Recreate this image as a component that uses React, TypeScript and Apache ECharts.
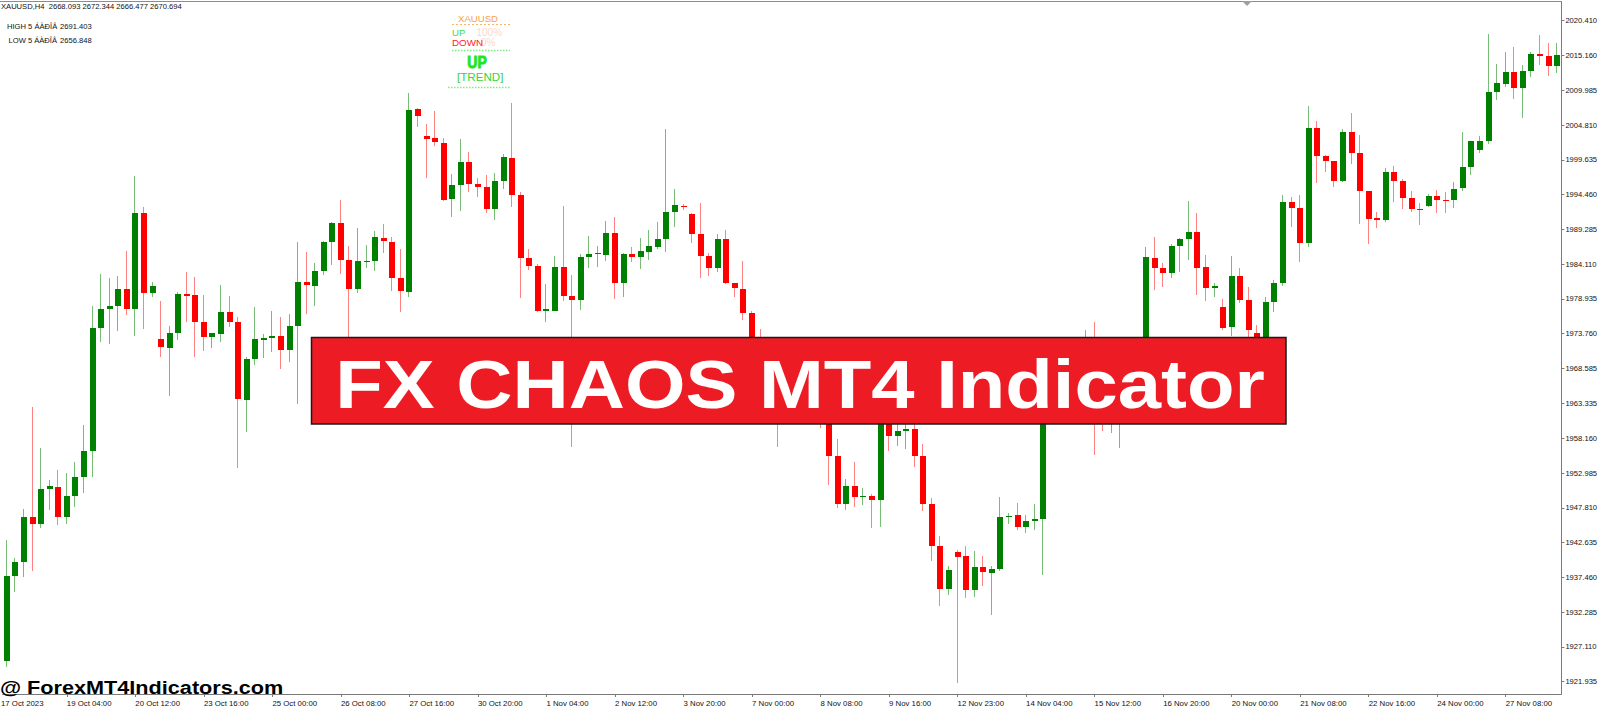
import React, { useEffect, useRef } from "react";
import * as echarts from "echarts";

// ---- Data (XAUUSD H4) ----
const opens = [
  1925.01, 1937.67, 1939.80, 1946.41, 1945.41, 1950.58, 1950.97, 1946.50, 1949.63, 1952.37,
  1956.33, 1974.56, 1977.39, 1977.92, 1980.41, 1977.43, 1991.77, 1979.86, 1972.96, 1971.67,
  1973.81, 1979.62, 1979.52, 1975.45, 1973.31, 1973.71, 1977.03, 1975.45, 1963.88, 1969.94,
  1972.81, 1973.07, 1973.41, 1971.32, 1974.90, 1981.41, 1980.90, 1983.13, 1987.45, 1990.28,
  1984.73, 1980.36, 1984.48, 1984.63, 1988.05, 1987.45, 1982.00, 1980.01, 2007.17, 2003.20,
  2002.85, 2002.20, 1993.81, 1995.90, 1999.28, 1996.05, 1995.65, 1992.32, 1996.49, 1999.97,
  1994.36, 1984.98, 1983.88, 1977.18, 1977.18, 1983.64, 1979.41, 1978.77, 1985.13, 1985.58,
  1985.47, 1988.70, 1981.26, 1985.58, 1985.13, 1985.97, 1986.71, 1987.81, 1991.92, 1992.82,
  1991.58, 1988.60, 1985.32, 1983.58, 1987.86, 1981.35, 1980.41, 1976.88, 1972.07, 1969.84,
  1971.32, 1963.88, 1966.11, 1964.62, 1966.86, 1964.62, 1961.64, 1955.54, 1948.39, 1951.07,
  1949.43, 1949.58, 1948.98, 1962.39, 1958.56, 1959.26, 1959.56, 1955.54, 1948.39, 1942.18,
  1935.69, 1941.29, 1940.64, 1935.58, 1939.05, 1938.16, 1938.66, 1946.41, 1946.71, 1944.92,
  1945.90, 1946.11, 1966.11, 1964.62, 1966.86, 1969.09, 1967.60, 1971.32, 1963.13, 1962.09,
  1964.18, 1968.05, 1966.26, 1967.60, 1985.07, 1983.49, 1982.84, 1986.81, 1987.81, 1988.94,
  1983.64, 1980.51, 1977.68, 1974.79, 1982.39, 1978.77, 1973.86, 1972.81, 1978.52, 1981.26,
  1993.32, 1992.43, 1987.30, 2004.34, 2000.22, 1999.47, 1996.54, 2003.75, 2000.71, 1995.05,
  1990.94, 1990.69, 1997.88, 1996.54, 1993.92, 1992.37, 1992.77, 1994.26, 1993.71, 1993.66,
  1995.41, 1998.53, 2001.11, 2002.50, 2009.70, 2010.94, 2012.68, 2010.39, 2012.92, 2015.41,
  2015.11, 2013.62,
];

const highs = [
  1943.03, 1940.30, 1947.64, 1962.79, 1956.68, 1951.96, 1953.45, 1952.96, 1954.69, 1960.15,
  1977.88, 1982.60, 1982.09, 1982.30, 1986.11, 1997.28, 1992.58, 1981.50, 1978.67, 1974.94,
  1979.92, 1982.90, 1982.15, 1979.52, 1973.90, 1981.00, 1979.37, 1976.28, 1970.24, 1977.77,
  1973.71, 1977.18, 1976.19, 1976.69, 1987.45, 1985.87, 1984.33, 1987.60, 1990.38, 1993.66,
  1986.81, 1989.45, 1986.96, 1989.05, 1990.09, 1988.11, 1986.32, 2009.55, 2007.32, 2004.98,
  2006.92, 2002.85, 1997.54, 2002.70, 2000.77, 1996.90, 1997.39, 1997.73, 2000.51, 2008.07,
  1994.90, 1986.32, 1984.13, 1981.15, 1985.32, 1992.77, 1982.49, 1985.62, 1988.35, 1986.81,
  1990.54, 1991.18, 1985.73, 1986.71, 1987.96, 1989.20, 1990.43, 2004.24, 1995.30, 1993.07,
  1991.77, 1993.17, 1985.73, 1988.60, 1989.20, 1981.35, 1984.63, 1977.18, 1974.41, 1972.07,
  1972.07, 1967.60, 1966.86, 1968.35, 1967.60, 1965.37, 1962.39, 1958.03, 1952.07, 1954.69,
  1950.73, 1949.88, 1963.88, 1963.00, 1960.90, 1960.90, 1960.60, 1957.33, 1949.24, 1943.62,
  1939.16, 1941.54, 1942.13, 1941.43, 1940.64, 1939.16, 1949.39, 1947.09, 1948.58, 1946.75,
  1948.39, 1966.86, 1967.15, 1968.05, 1970.13, 1970.58, 1974.30, 1975.54, 1964.18, 1965.37,
  1969.09, 1968.94, 1968.64, 1986.62, 1988.11, 1984.24, 1987.11, 1987.96, 1993.56, 1991.77,
  1985.47, 1981.26, 1978.88, 1985.32, 1983.49, 1980.75, 1975.05, 1979.17, 1981.75, 1994.41,
  1994.16, 1994.41, 2007.66, 2005.47, 2000.37, 1999.47, 2004.19, 2006.58, 2003.34, 1995.05,
  1991.92, 1998.38, 1998.77, 1996.75, 1995.00, 1993.17, 1994.56, 1995.15, 1994.90, 1996.39,
  2003.75, 2002.50, 2003.20, 2018.34, 2013.92, 2015.66, 2016.50, 2013.77, 2015.75, 2018.24,
  2017.00, 2017.00,
];

const lows = [
  1924.07, 1935.33, 1937.47, 1938.45, 1944.86, 1947.50, 1945.26, 1945.41, 1947.99, 1949.98,
  1952.37, 1972.56, 1972.17, 1974.20, 1976.54, 1973.45, 1974.45, 1979.17, 1970.24, 1964.52,
  1972.81, 1975.54, 1970.24, 1971.22, 1971.58, 1972.56, 1974.71, 1953.71, 1959.16, 1969.09,
  1970.09, 1971.07, 1968.49, 1969.58, 1963.24, 1976.69, 1977.92, 1982.49, 1983.98, 1982.64,
  1972.07, 1979.86, 1983.49, 1983.09, 1985.82, 1980.11, 1977.03, 1979.26, 2004.49, 1996.99,
  2001.75, 1993.56, 1991.09, 1992.07, 1994.81, 1994.07, 1991.77, 1990.69, 1995.26, 1992.58,
  1979.02, 1983.24, 1977.03, 1975.45, 1977.10, 1978.67, 1956.88, 1977.28, 1983.49, 1983.73,
  1984.63, 1978.92, 1979.17, 1984.48, 1983.34, 1984.73, 1986.37, 1985.97, 1989.60, 1992.17,
  1987.30, 1982.00, 1982.39, 1982.99, 1981.15, 1979.26, 1975.79, 1971.03, 1969.09, 1968.35,
  1956.92, 1962.39, 1963.13, 1963.88, 1963.13, 1959.66, 1951.22, 1947.75, 1947.50, 1947.99,
  1948.24, 1944.77, 1945.01, 1956.33, 1957.07, 1956.58, 1953.95, 1947.39, 1939.90, 1933.20,
  1934.84, 1921.78, 1934.35, 1934.49, 1936.18, 1931.86, 1938.41, 1945.41, 1944.52, 1944.03,
  1944.52, 1937.82, 1963.88, 1964.18, 1966.11, 1966.56, 1966.86, 1955.69, 1959.31, 1959.01,
  1956.68, 1965.07, 1965.52, 1966.86, 1980.26, 1980.75, 1982.00, 1982.90, 1984.73, 1979.52,
  1978.67, 1979.17, 1974.30, 1973.41, 1978.28, 1972.81, 1971.32, 1972.07, 1977.03, 1980.86,
  1989.69, 1984.39, 1986.71, 1996.24, 1997.88, 1995.64, 1996.39, 1999.03, 1990.09, 1987.07,
  1989.54, 1990.34, 1993.41, 1992.28, 1991.92, 1989.94, 1992.67, 1991.68, 1991.68, 1992.43,
  1995.05, 1997.39, 2000.71, 2001.96, 2008.56, 2010.54, 2008.71, 2005.83, 2012.03, 2013.77,
  2012.13, 2012.62,
];

const closes = [
  1937.67, 1939.80, 1946.41, 1945.41, 1950.58, 1951.07, 1946.50, 1949.63, 1952.37, 1956.33,
  1974.56, 1977.39, 1977.92, 1980.41, 1977.43, 1991.77, 1979.77, 1980.90, 1971.73, 1973.81,
  1979.66, 1979.41, 1975.45, 1973.31, 1973.81, 1977.03, 1975.45, 1963.98, 1969.94, 1972.92,
  1973.07, 1973.41, 1971.32, 1974.90, 1981.41, 1981.00, 1983.09, 1987.45, 1990.28, 1984.73,
  1980.41, 1984.58, 1984.63, 1988.11, 1987.56, 1982.00, 1980.11, 2007.07, 2006.22, 2002.79,
  2002.26, 1993.66, 1995.90, 1999.28, 1996.05, 1995.65, 1992.32, 1996.49, 2000.02, 1994.36,
  1984.98, 1983.88, 1977.18, 1977.39, 1983.64, 1979.41, 1978.77, 1985.22, 1985.58, 1985.73,
  1988.70, 1981.26, 1985.62, 1985.13, 1986.07, 1986.81, 1987.81, 1991.92, 1992.92, 1992.62,
  1988.60, 1985.37, 1983.58, 1987.86, 1981.26, 1980.51, 1976.88, 1972.07, 1969.84, 1971.32,
  1963.88, 1966.11, 1964.62, 1966.86, 1964.62, 1961.64, 1955.58, 1948.39, 1951.07, 1949.48,
  1949.58, 1948.98, 1963.13, 1958.56, 1959.26, 1959.56, 1955.58, 1948.39, 1942.18, 1935.69,
  1938.56, 1940.54, 1935.58, 1939.05, 1938.22, 1938.66, 1946.41, 1946.60, 1945.01, 1945.81,
  1946.11, 1966.11, 1964.62, 1966.86, 1969.09, 1967.60, 1971.32, 1963.13, 1962.09, 1964.18,
  1968.05, 1966.26, 1967.60, 1985.13, 1983.49, 1982.84, 1986.81, 1987.81, 1988.85, 1983.49,
  1980.51, 1980.86, 1974.56, 1982.39, 1978.77, 1974.30, 1972.81, 1978.52, 1981.26, 1993.41,
  1992.52, 1987.30, 2004.34, 2000.22, 1999.52, 1996.54, 2003.84, 2000.71, 1995.05, 1990.79,
  1990.69, 1997.88, 1996.54, 1993.92, 1992.28, 1992.28, 1994.26, 1993.66, 1993.62, 1995.30,
  1998.53, 2002.45, 2002.50, 2009.70, 2011.04, 2012.68, 2010.39, 2012.92, 2015.36, 2015.11,
  2013.62, 2015.26,
];

// time-axis labels: one every 8 bars, starting at bar 7
const dateTickLabels = [
  "19 Oct 04:00", "20 Oct 12:00", "23 Oct 16:00", "25 Oct 00:00", "26 Oct 08:00",
  "27 Oct 16:00", "30 Oct 20:00", "1 Nov 04:00", "2 Nov 12:00", "3 Nov 20:00",
  "7 Nov 00:00", "8 Nov 08:00", "9 Nov 16:00", "12 Nov 23:00", "14 Nov 04:00",
  "15 Nov 12:00", "16 Nov 20:00", "20 Nov 00:00", "21 Nov 08:00", "22 Nov 16:00",
  "24 Nov 00:00", "27 Nov 08:00",
];
const firstDateLabel = "17 Oct 2023";
const FIRST_LABEL_BAR = 7;
const LABEL_STEP = 8;

const priceTicks = [
  2020.41, 2015.16, 2009.985, 2004.81, 1999.635, 1994.46, 1989.285, 1984.11, 1978.935,
  1973.76, 1968.585, 1963.335, 1958.16, 1952.985, 1947.81, 1942.635, 1937.46, 1932.285,
  1927.11, 1921.935,
];

const headerText = "XAUUSD,H4  2668.093 2672.344 2666.477 2670.694";
const highLabel = "HIGH 5 ÁÀÐÎÂ";
const highValue = "2691.403";
const lowLabel = "LOW 5 ÁÀÐÎÂ";
const lowValue = "2656.848";
const bannerTitle = "FX CHAOS MT4 Indicator";
const watermarkText = "@ ForexMT4Indicators.com";

const FONT = '"Liberation Sans", Arial, sans-serif';
const UP = "#008000";
const DOWN = "#ff0000";
const UP_WICK = "#78bc78";
const DOWN_WICK = "#ff8282";

const barIndex = opens.map((_, i) => i);
const categories = barIndex.map((i) => String(i));

function labelBar(i: number): boolean {
  const k = (i - FIRST_LABEL_BAR) / LABEL_STEP;
  return Number.isInteger(k) && k >= 0 && k < dateTickLabels.length;
}
function labelText(i: number): string {
  if (!labelBar(i)) return "";
  return dateTickLabels[(i - FIRST_LABEL_BAR) / LABEL_STEP];
}

function buildOption() {
  const bars = barIndex.map((i) => [i, opens[i], closes[i], lows[i], highs[i]]);

  const txt = (text: string, x: number, y: number, fill: string, size: number, extra: any = {}) => {
    const { weight, align, stroke, strokeWidth, ...rest } = extra;
    return {
      type: "text",
      x,
      y,
      z: 50,
      silent: true,
      ...rest,
      style: {
        text,
        fill,
        font: `${weight || "normal"} ${size}px ${FONT}`,
        textAlign: align || "left",
        textVerticalAlign: "middle",
        verticalAlign: "middle",
        ...(stroke ? { stroke, lineWidth: strokeWidth || 1 } : {}),
      },
    };
  };

  const graphics: any[] = [
    // window frame top line
    { type: "line", z: 50, silent: true, shape: { x1: 0, y1: 1.5, x2: 1562, y2: 1.5 }, style: { stroke: "#8c8c8c", lineWidth: 1 } },
    // chart shift marker
    { type: "polygon", z: 50, silent: true, shape: { points: [[1242, 1], [1252, 1], [1247, 6]] }, style: { fill: "#a0a0a0" } },
    // header
    txt(headerText, 1, 6.7, "#111111", 7.6),
    txt(highLabel, 7, 26.7, "#111111", 7.6),
    txt(highValue, 60, 26.7, "#111111", 7.6),
    txt(lowLabel, 8.5, 40.2, "#111111", 7.6),
    txt(lowValue, 60, 40.2, "#111111", 7.6),
    // indicator panel
    txt("XAUUSD", 458, 18.5, "#f7a24c", 9.6),
    { type: "line", z: 50, silent: true, shape: { x1: 452, y1: 24.5, x2: 510, y2: 24.5 }, style: { stroke: "#f9b46c", lineWidth: 1, lineDash: [2, 2] } },
    txt("UP", 452, 32.7, "#3fdc3f", 9.6),
    txt("100%", 476.5, 32.7, "#fcd9c8", 10),
    txt("0%", 481, 42.5, "#fcd9c8", 10),
    txt("DOWN", 452, 42.5, "#ff2424", 9.8),
    { type: "line", z: 50, silent: true, shape: { x1: 452, y1: 50.5, x2: 510, y2: 50.5 }, style: { stroke: "#7ced7c", lineWidth: 1.5, lineDash: [1.5, 1.5] } },
    txt("UP", 477, 62, "#1ee61e", 17, { weight: "bold", align: "center", scaleX: 0.82, stroke: "#1ee61e", strokeWidth: 1 }),
    txt("[TREND]", 457, 76, "#33d633", 11.6),
    { type: "line", z: 50, silent: true, shape: { x1: 448, y1: 87.5, x2: 510, y2: 87.5 }, style: { stroke: "#7ced7c", lineWidth: 1.5, lineDash: [1.5, 1.5] } },
    // banner
    { type: "rect", z: 60, silent: true, shape: { x: 311.5, y: 337.5, width: 974.5, height: 86.5 }, style: { fill: "#ed1c24", stroke: "#1a1a1a", lineWidth: 1.5 } },
    txt(bannerTitle, 800, 383.7, "#ffffff", 69, { weight: "bold", align: "center", scaleX: 1.128, z: 61 }),
    // watermark
    txt(watermarkText, 0, 687, "#000000", 19, { weight: "bold", scaleX: 1.14, z: 61 }),
    // first date label at the left edge
    txt(firstDateLabel, 1, 703, "#111111", 7.8),
  ];

  return {
    animation: false,
    backgroundColor: "#ffffff",
    grid: { left: 2.62, right: 38.6, top: 2, bottom: 17, outerBoundsMode: "none", containLabel: false },
    xAxis: {
      type: "category",
      data: categories,
      boundaryGap: true,
      axisLine: { show: true, lineStyle: { color: "#7a7a7a", width: 1 } },
      axisTick: { show: true, alignWithLabel: true, interval: (i: number) => labelBar(i), length: 3, lineStyle: { color: "#7a7a7a" } },
      axisLabel: {
        show: true,
        interval: (i: number) => labelBar(i),
        formatter: (_v: string, i: number) => labelText(i),
        align: "left",
        margin: 5,
        fontSize: 7.8,
        fontFamily: FONT,
        color: "#111111",
      },
      splitLine: { show: false },
    },
    yAxis: {
      type: "value",
      position: "right",
      min: 1920.09,
      max: 2023.15,
      scale: true,
      axisLine: { show: true, lineStyle: { color: "#7a7a7a", width: 1 } },
      axisTick: { show: true, length: 3, customValues: priceTicks, lineStyle: { color: "#7a7a7a" } },
      axisLabel: {
        show: true,
        customValues: priceTicks,
        formatter: (v: number) => v.toFixed(3),
        margin: 4,
        fontSize: 7.6,
        fontFamily: FONT,
        color: "#111111",
      },
      splitLine: { show: false },
    },
    series: [
      {
        type: "custom",
        name: "XAUUSD",
        data: bars,
        encode: { x: 0, y: [1, 2, 3, 4] },
        clip: true,
        renderItem: (_params: any, api: any) => {
          const i = api.value(0);
          const o = api.value(1);
          const c = api.value(2);
          const l = api.value(3);
          const h = api.value(4);
          const po = api.coord([i, o]);
          const pc = api.coord([i, c]);
          const pl = api.coord([i, l]);
          const ph = api.coord([i, h]);
          const up = c >= o;
          const bodyW = 6;
          const left = Math.round(po[0] - bodyW / 2);
          const wickX = left + 2.5;
          const top = Math.round(Math.min(po[1], pc[1]));
          const bot = Math.round(Math.max(po[1], pc[1]));
          return {
            type: "group",
            children: [
              {
                type: "line",
                shape: { x1: wickX, y1: Math.round(ph[1]), x2: wickX, y2: Math.round(pl[1]) },
                style: { stroke: up ? UP_WICK : DOWN_WICK, lineWidth: 1 },
              },
              {
                type: "rect",
                shape: { x: left, y: top, width: bodyW, height: Math.max(1, bot - top) },
                style: { fill: up ? UP : DOWN },
              },
            ],
          };
        },
      },
    ],
    graphic: { elements: graphics },
  };
}

export default function App() {
  const ref = useRef<HTMLDivElement>(null);
  useEffect(() => {
    if (!ref.current) return;
    const chart = echarts.init(ref.current, null, { renderer: "svg" });
    chart.setOption(buildOption() as any);
    return () => chart.dispose();
  }, []);
  return (
    <div
      ref={ref}
      style={{ position: "absolute", left: 0, top: 0, width: 1600, height: 711, background: "#ffffff" }}
    />
  );
}
